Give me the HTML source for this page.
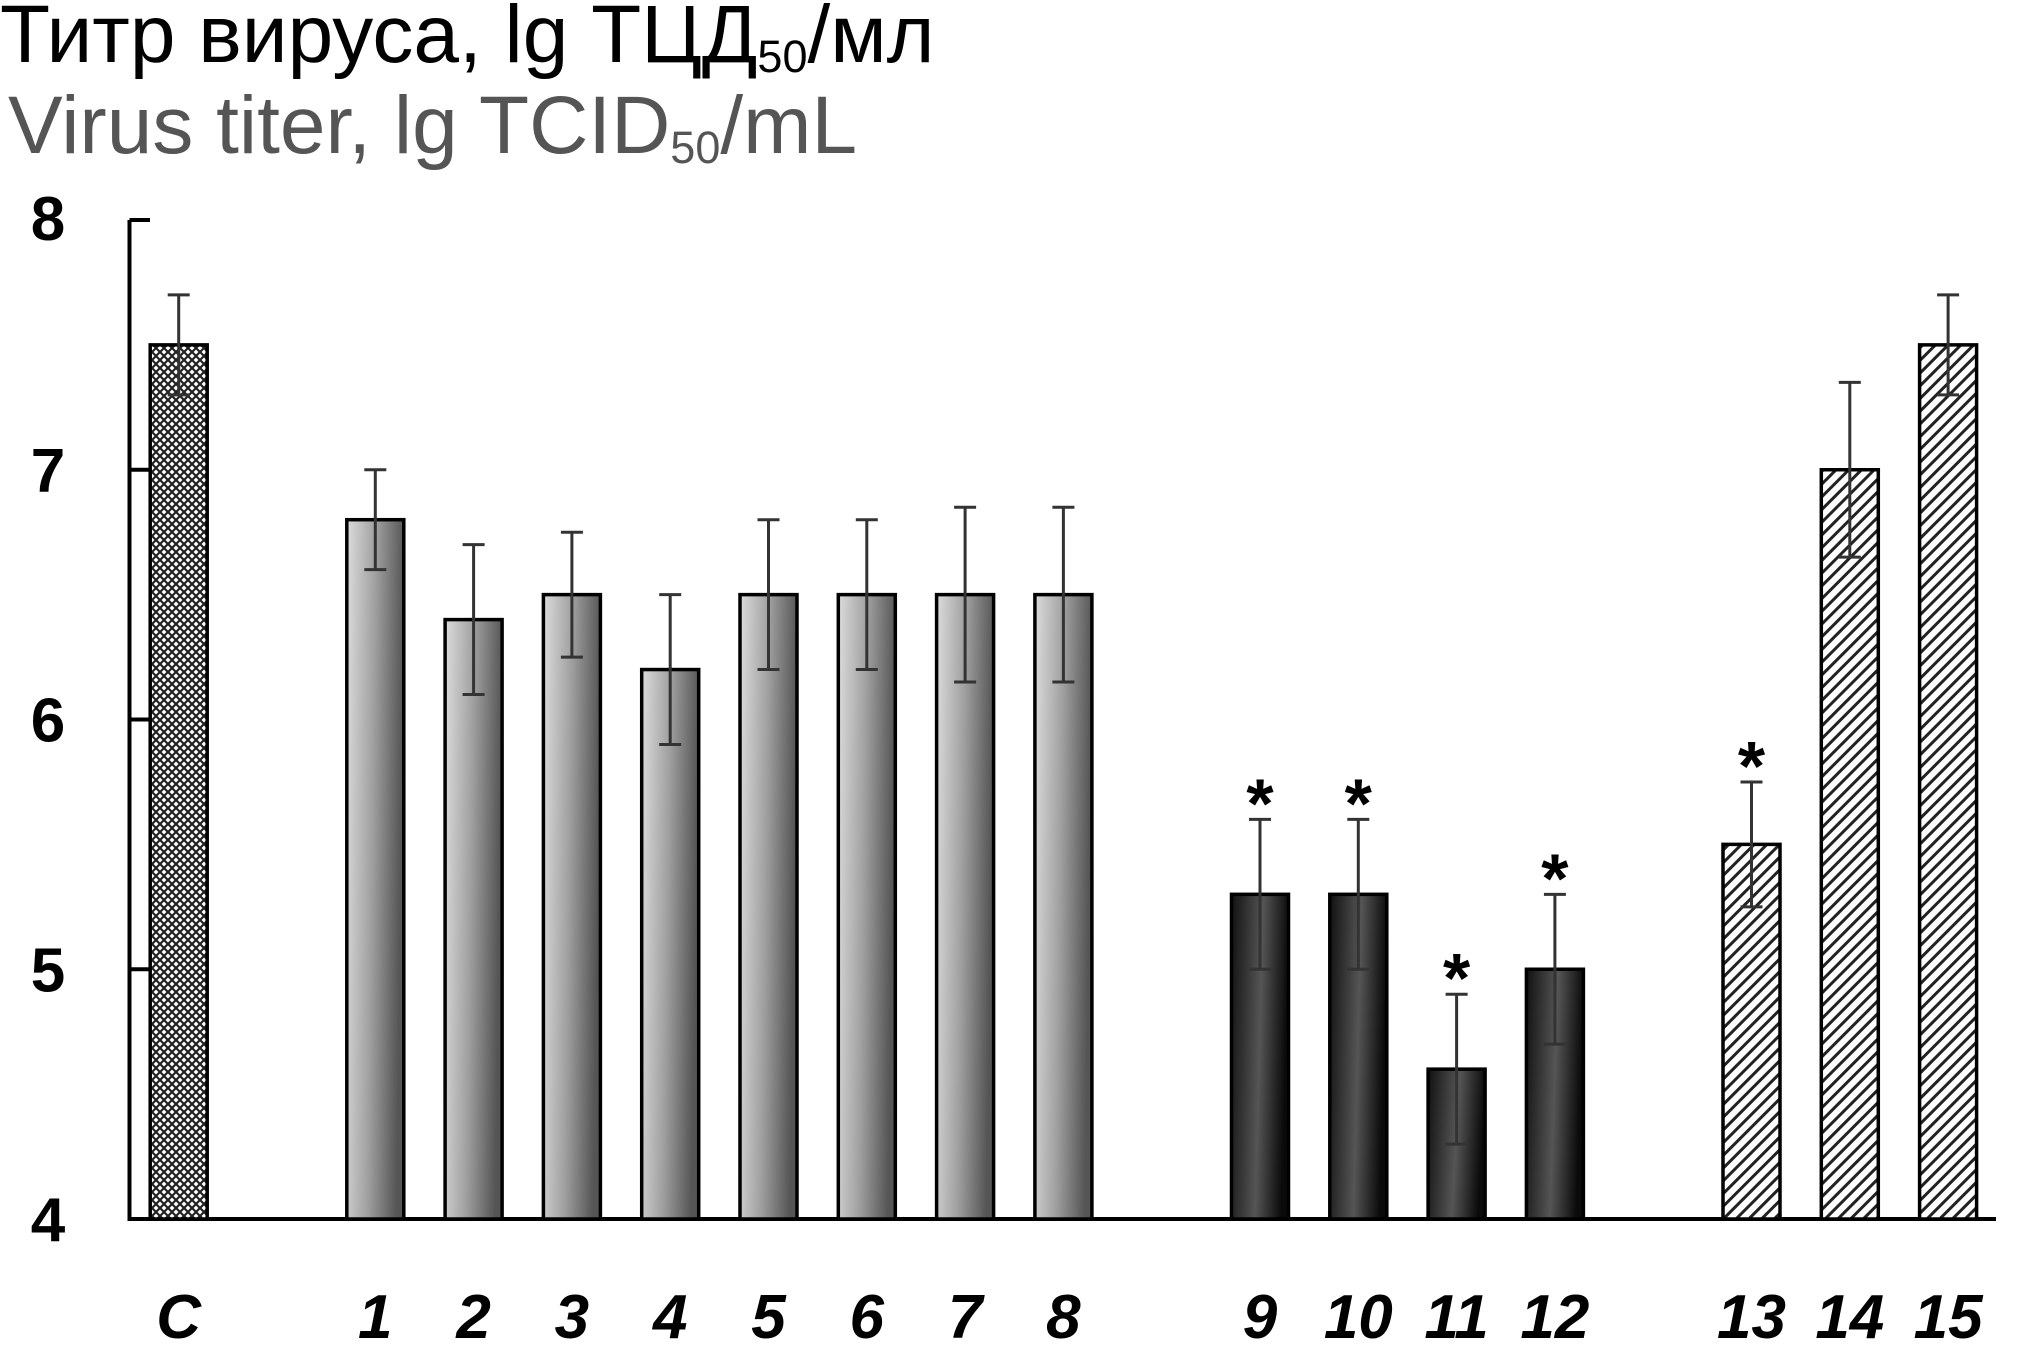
<!DOCTYPE html>
<html><head><meta charset="utf-8"><style>
html,body{margin:0;padding:0;background:#fff;}
svg{display:block;}
</style></head><body>
<svg id="chart" width="2020" height="1371" viewBox="0 0 2020 1371" xmlns="http://www.w3.org/2000/svg">
<defs>
<linearGradient id="gGray" x1="0" y1="0" x2="1" y2="0.15">
<stop offset="0" stop-color="#dcdcdc"/><stop offset="0.5" stop-color="#a0a0a0"/><stop offset="1" stop-color="#555"/>
</linearGradient>
<linearGradient id="gDark" x1="0" y1="0" x2="1" y2="0.15">
<stop offset="0" stop-color="#111"/><stop offset="0.55" stop-color="#555"/><stop offset="1" stop-color="#0a0a0a"/>
</linearGradient>
<pattern id="pCross" width="8" height="8" patternUnits="userSpaceOnUse">
<rect width="8" height="8" fill="#fff"/>
<path d="M0 0L8 8M8 0L0 8" stroke="#222" stroke-width="2.2"/>
</pattern>
<pattern id="pHatch" width="9" height="9" patternUnits="userSpaceOnUse" patternTransform="rotate(45)">
<rect width="9" height="9" fill="#fff"/>
<rect x="0" y="0" width="3" height="9" fill="#222"/>
</pattern>
</defs>
<text x="0" y="62" font-family="Liberation Sans, sans-serif" font-size="82" fill="#000">Титр вируса, lg ТЦД<tspan font-size="45" dy="10">50</tspan><tspan dy="-10">/мл</tspan></text>
<text x="8" y="153" font-family="Liberation Sans, sans-serif" font-size="82" fill="#555">Virus titer, lg TCID<tspan font-size="45" dy="10">50</tspan><tspan dy="-10">/mL</tspan></text>
<g id="plot"></g>
</svg>
<script>
const categories = ["C","1","2","3","4","5","6","7","8","9","10","11","12","13","14","15"];
const slots = [0,2,3,4,5,6,7,8,9,11,12,13,14,16,17,18];
const values = [7.5,6.8,6.4,6.5,6.2,6.5,6.5,6.5,6.5,5.3,5.3,4.6,5.0,5.5,7.0,7.5];
const errors = [0.2,0.2,0.3,0.25,0.3,0.3,0.3,0.35,0.35,0.3,0.3,0.3,0.3,0.25,0.35,0.2];
const groups = ["cross","gray","gray","gray","gray","gray","gray","gray","gray","dark","dark","dark","dark","hatch","hatch","hatch"];
const significant = [false,false,false,false,false,false,false,false,false,true,true,true,true,true,false,false];
const yTicks = [4,5,6,7,8];

const NS = "http://www.w3.org/2000/svg";
const g = document.getElementById("plot");
const yMin = 4, yMax = 8, yTop = 220, yBot = 1219;
const y = v => yBot - (v - yMin) / (yMax - yMin) * (yBot - yTop);
const x = s => 178.7 + s * 98.3;
const bw = 57;
function el(tag, attrs, parent){ const e = document.createElementNS(NS, tag); for (const k in attrs) e.setAttribute(k, attrs[k]); (parent||g).appendChild(e); return e; }

const axis = el("path", {d:`M 129.5 ${yTop} L 129.5 ${yBot} L 1996 ${yBot}`, fill:"none", stroke:"#000", "stroke-width":4});



yTicks.forEach(t => {
  const tk = el("line", {x1:129.5, x2:150, y1:y(t), y2:y(t), stroke:"#000", "stroke-width":4});
  
  
  const lb = el("text", {x:48, y:y(t)+(t===8?20:22), "text-anchor":"middle", "font-family":"Liberation Sans, sans-serif", "font-weight":"bold", "font-size":62});
  lb.textContent = t;
  
  
});

const fills = {cross:"url(#pCross)", gray:"url(#gGray)", dark:"url(#gDark)", hatch:"url(#pHatch)"};
categories.forEach((c, i) => {
  const cx = x(slots[i]);
  const top = y(values[i]);
  const bar = el("rect", {x:cx-bw/2, y:top, width:bw, height:yBot-top, fill:fills[groups[i]], stroke:"#000", "stroke-width":3.5});
  
  
  const e1 = y(values[i] + errors[i]), e2 = y(values[i] - errors[i]);
  const eb = el("path", {d:`M ${cx} ${e1} L ${cx} ${e2} M ${cx-11} ${e1} L ${cx+11} ${e1} M ${cx-11} ${e2} L ${cx+11} ${e2}`, stroke:"#333", "stroke-width":3, fill:"none"});
  
  
  if (significant[i]) {
    const st = el("text", {x:cx, y:e1+8, "text-anchor":"middle", "font-family":"Liberation Sans, sans-serif", "font-weight":"bold", "font-size":70});
    st.textContent = "*";
    
    
  }
  const lb = el("text", {x:cx, y:1338, "text-anchor":"middle", "font-family":"Liberation Sans, sans-serif", "font-weight":"bold", "font-style":"italic", "font-size":62});
  lb.textContent = c;
  
  
});
</script>
</body></html>
